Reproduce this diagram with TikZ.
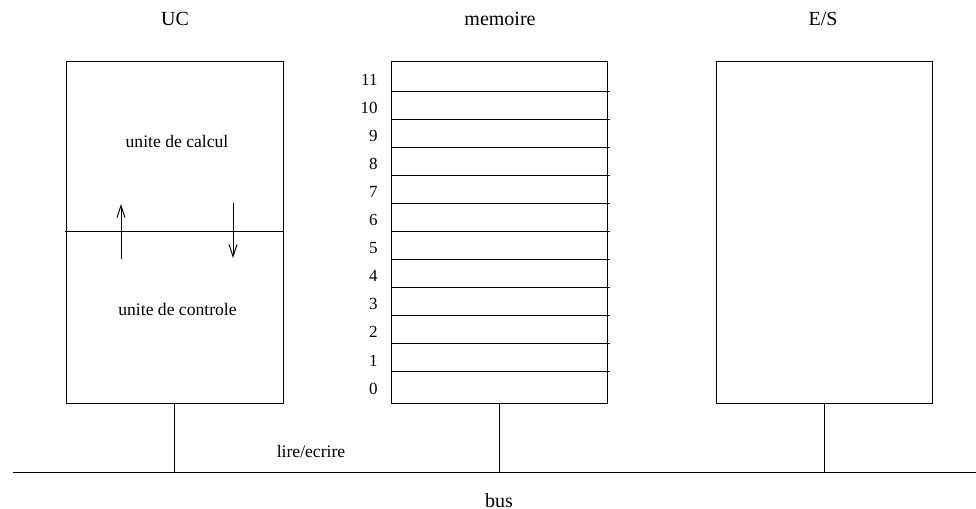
\documentclass[tikz,border=0pt]{standalone}
\usepackage{fontspec}
\setmainfont{Liberation Serif}
\usetikzlibrary{arrows.meta}
\tikzset{box/.style={draw, inner sep=0pt, minimum width=108pt, minimum height=171pt},
	title/.style={inner sep=0pt, anchor=base, font=\fontsize{10}{12}\selectfont},
	label/.style={inner sep=0pt, anchor=base, font=\fontsize{8.8}{10}\selectfont},
	addr/.style={inner sep=0pt, anchor=base east, font=\fontsize{8.5}{10}\selectfont}}

\begin{document}
\begin{tikzpicture}[x=0.5pt,y=-0.5pt,line width=0.5pt,
		>={Straight Barb[length=6pt,width=4pt]}]
		\useasboundingbox (0,0) rectangle (976,509);
		% les trois blocs
		\node (uc) [box, minimum width=108.5pt] at (174.5,232) {};
		\node (mem) [box] at (499,232) {};
		\node (es) [box] at (824,232) {};
		\node (ucname) [title] at (175,25) {UC};
		\node (memname) [title] at (500,25) {memoire};
		\node (esname) [title] at (823,25) {E/S};
		% UC
		\draw (65,231) -- (283,231);
		\node (calcul) [label] at (177,147) {unite de calcul};
		\node (controle) [label] at (177.5,315) {unite de controle};
		\draw [->] (121,259) -- (121,204);
		\draw [->] (233,203) -- (233,258);
		% cases memoire
		\draw (391,91) -- (610,91);
		\draw (391,119) -- (610,119);
		\draw (391,147) -- (610,147);
		\draw (391,175) -- (610,175);
		\draw (391,203) -- (610,203);
		\draw (391,231) -- (610,231);
		\draw (391,259) -- (610,259);
		\draw (391,287) -- (610,287);
		\draw (391,315) -- (610,315);
		\draw (391,343) -- (610,343);
		\draw (391,371) -- (610,371);
		\node (a11) [addr] at (378,85) {11};
		\node (a10) [addr] at (378,113) {10};
		\node (a9) [addr] at (378,141) {9};
		\node (a8) [addr] at (378,169) {8};
		\node (a7) [addr] at (378,197) {7};
		\node (a6) [addr] at (378,225) {6};
		\node (a5) [addr] at (378,253) {5};
		\node (a4) [addr] at (378,281) {4};
		\node (a3) [addr] at (378,309) {3};
		\node (a2) [addr] at (378,337) {2};
		\node (a1) [addr] at (378,366) {1};
		\node (a0) [addr] at (378,394) {0};
		% bus
		\coordinate (busL) at (13,472);
		\coordinate (busR) at (976,472);
		\draw (busL) -- (busR);
		\draw (uc.south) -- (uc.south |- busL);
		\draw (mem.south) -- (mem.south |- busL);
		\draw (es.south) -- (es.south |- busL);
		\node (rw) [label] at (311,457) {lire/ecrire};
		\node (bus) [title] at (499,507) {bus};
	\end{tikzpicture}
\end{document}
